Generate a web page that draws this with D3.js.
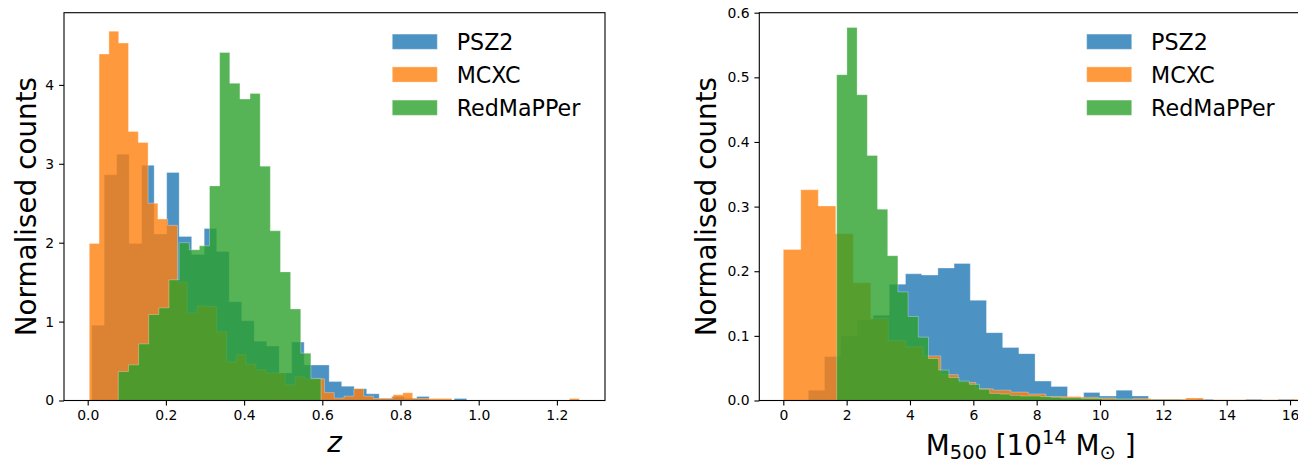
<!DOCTYPE html>
<html>
<head>
<meta charset="utf-8">
<script src="https://cdn.jsdelivr.net/npm/d3@7"></script>
<style>
body { margin: 0; background: #fff; }
text { font-family: "DejaVu Sans", sans-serif; fill: #000; }
</style>
</head>
<body>
<svg width="1298" height="463"></svg>
<script>
"use strict";

// Data. Normalised histogram heights.

var Series = ["PSZ2", "MCXC", "RedMaPPer"];
var Colors = ["#1f77b4", "#ff7f0e", "#2ca02c"];

// Redshift panel: first bin edge and bin width of each series.
var zBinStart = [0.0102, 0.0041, 0.0783];
var zBinWidth = [0.03197, 0.02506, 0.02592];

var zPSZ2 = [0.955, 2.86, 3.12, 1.99, 2.98, 2.11, 2.89, 2.08, 1.85, 2.18,
             1.89, 1.25, 1.01, 0.75, 0.69, 0.35, 0.74, 0.45, 0.45, 0.24,
             0.18, 0.15, 0.085, 0.03, 0.05, 0.03, 0.05, 0, 0, 0.025];
var zMCXC = [1.99, 4.39, 4.68, 4.53, 3.41, 3.27, 2.50, 2.30, 2.22, 1.5,
             1.11, 1.20, 1.19, 0.87, 0.49, 0.58, 0.46, 0.39, 0.35, 0.35,
             0.2, 0.30, 0.27, 0.275, 0.10, 0.03, 0.055, 0.15, 0.055, 0.025,
             0.025, 0.072, 0.098, 0.025, 0.025, 0.025, 0.025, 0, 0, 0,
             0, 0, 0, 0, 0, 0, 0, 0, 0, 0.025];
var zRedMaPPer = [0.368, 0.452, 0.718, 1.09, 1.175, 1.53, 2.00, 1.91, 1.96, 2.72,
                  4.41, 4.02, 3.82, 3.89, 2.97, 2.15, 1.63, 1.16, 0.60, 0.28];

// Mass panel.
var mBinStart = [0.789, 0.0, 1.686];
var mBinWidth = [0.5115, 0.5526, 0.3221];

var mPSZ2 = [0.016, 0.068, 0.10, 0.125, 0.132, 0.18, 0.196, 0.194, 0.205, 0.212,
             0.155, 0.105, 0.082, 0.0725, 0.030, 0.0216, 0.005, 0.0123, 0.007, 0.0159,
             0.007, 0.002, 0.002, 0.001, 0.002, 0, 0, 0.002, 0, 0.002];
var mMCXC = [0.2335, 0.326, 0.301, 0.258, 0.182, 0.127, 0.093, 0.083, 0.069, 0.04,
             0.028, 0.018, 0.016, 0.013, 0.01, 0.006, 0.006, 0.005, 0.004, 0.002,
             0.003, 0.002, 0.002, 0.004, 0.001, 0.001, 0.001, 0.001, 0.001, 0.002];
var mRedMaPPer = [0.504, 0.577, 0.473, 0.379, 0.296, 0.224, 0.168, 0.13, 0.098, 0.065,
                  0.047, 0.0355, 0.030, 0.025, 0.0175, 0.011, 0.01, 0.008, 0.007, 0.007,
                  0.006, 0.005, 0.004, 0.004, 0.003, 0.003, 0.002, 0.002, 0.002, 0.001,
                  0.001, 0.001, 0.001, 0.001];

// Ticks.
var zTicks = [0, 0.2, 0.4, 0.6, 0.8, 1.0, 1.2];
var zCountTicks = [0, 1, 2, 3, 4];
var mTicks = [0, 2, 4, 6, 8, 10, 12, 14, 16];
var mCountTicks = [0, 0.1, 0.2, 0.3, 0.4, 0.5, 0.6];

// Layout.

var svg = d3.select("svg");

var Top = 12.7;
var Bottom = 400.5;
var TickLen = 4.9;
var TickFont = 13.9;
var LegendFont = 22.2;
var LabelFont = 27.8;
var Alpha = 0.8;

var panels = [
    {
        left: 64, right: 605,
        xdomain: [-0.0606, 1.323], ydomain: [0, 4.915],
        xticks: zTicks, yticks: zCountTicks,
        xfmt: d3.format(".1f"), yfmt: d3.format("d"),
        starts: zBinStart, widths: zBinWidth,
        values: [zPSZ2, zMCXC, zRedMaPPer],
        ylabelX: 36, legendX: 392.3
    },
    {
        left: 759.3, right: 1302,
        xdomain: [-0.758, 16.378], ydomain: [0, 0.6],
        xticks: mTicks, yticks: mCountTicks,
        xfmt: d3.format("d"), yfmt: d3.format(".1f"),
        starts: mBinStart, widths: mBinWidth,
        values: [mPSZ2, mMCXC, mRedMaPPer],
        ylabelX: 716, legendX: 1086.7
    }
];

var StepPoints = function(start, width, vals, x, y){
    var pts = [[x(start), y(0)]];
    for (var i = 0; i < vals.length; i++){
        pts.push([x(start + i*width), y(vals[i])]);
        pts.push([x(start + (i+1)*width), y(vals[i])]);
    }
    pts.push([x(start + vals.length*width), y(0)]);
    return pts;
};

var DrawPanel = function(p, k){
    var x = d3.scaleLinear().domain(p.xdomain).range([p.left, p.right]);
    var y = d3.scaleLinear().domain(p.ydomain).range([Bottom, Top]);

    svg.append("clipPath").attr("id", "clip" + k)
      .append("rect")
        .attr("x", p.left).attr("y", Top)
        .attr("width", p.right - p.left).attr("height", Bottom - Top);

    var g = svg.append("g").attr("clip-path", "url(#clip" + k + ")");
    var line = d3.line();

    // Histograms, drawn in legend order so RedMaPPer lands on top.
    for (var s = 0; s < Series.length; s++){
        g.append("path")
            .attr("d", line(StepPoints(p.starts[s], p.widths[s], p.values[s], x, y)) + "Z")
            .attr("fill", Colors[s])
            .attr("fill-opacity", Alpha)
            .attr("stroke", "#fff")
            .attr("stroke-opacity", 0.3)
            .attr("stroke-width", 1);
    }

    // Axes.
    var xa = svg.append("g")
        .attr("transform", "translate(0," + Bottom + ")")
        .call(d3.axisBottom(x).tickValues(p.xticks).tickFormat(p.xfmt)
              .tickSize(TickLen).tickPadding(4.9));
    var ya = svg.append("g")
        .attr("transform", "translate(" + p.left + ",0)")
        .call(d3.axisLeft(y).tickValues(p.yticks).tickFormat(p.yfmt)
              .tickSize(TickLen).tickPadding(4.9));

    [xa, ya].forEach(function(a){
        a.select(".domain").remove();
        a.attr("font-family", null).attr("font-size", null);
        a.selectAll("line").attr("stroke", "#000").attr("stroke-width", 1.1);
        a.selectAll("text").style("font-size", TickFont + "px").attr("fill", "#000");
    });

    // Spines.
    svg.append("rect")
        .attr("x", p.left).attr("y", Top)
        .attr("width", p.right - p.left).attr("height", Bottom - Top)
        .attr("fill", "none").attr("stroke", "#000").attr("stroke-width", 1.1);

    // Y label.
    svg.append("text")
        .attr("transform", "translate(" + p.ylabelX + "," + ((Top + Bottom)/2) + ") rotate(-90)")
        .attr("text-anchor", "middle")
        .style("font-size", LabelFont + "px")
        .text("Normalised counts");

    // Legend.
    var rows = [41.7, 74.5, 107.7];
    for (var s = 0; s < Series.length; s++){
        svg.append("rect")
            .attr("x", p.legendX).attr("y", rows[s] - 7.6)
            .attr("width", 45).attr("height", 15.2)
            .attr("fill", Colors[s]).attr("fill-opacity", Alpha)
            .attr("stroke", "#fff").attr("stroke-opacity", 0.3);
        svg.append("text")
            .attr("x", p.legendX + 64.4).attr("y", rows[s] + 8.1)
            .style("font-size", LegendFont + "px")
            .text(Series[s]);
    }
    return x;
};

panels.forEach(DrawPanel);

// X labels.
svg.append("text")
    .attr("x", 334.5).attr("y", 452)
    .attr("text-anchor", "middle")
    .style("font-size", LabelFont + "px").style("font-style", "italic")
    .text("z");

var SubFont = (LabelFont*0.7) + "px";
var ml = svg.append("text")
    .attr("x", 1030.7).attr("y", 455)
    .attr("text-anchor", "middle")
    .style("font-size", LabelFont + "px");
ml.append("tspan").text("M");
ml.append("tspan").attr("dy", 3.5).style("font-size", SubFont).text("500");
ml.append("tspan").attr("dy", -3.5).text(" [10");
ml.append("tspan").attr("dy", -11).style("font-size", SubFont).text("14");
ml.append("tspan").attr("dy", 11).text(" M");
ml.append("tspan").attr("dy", 3.5).style("font-size", SubFont).text("\u2299");
ml.append("tspan").attr("dy", -3.5).text(" ]");
</script>
</body>
</html>
